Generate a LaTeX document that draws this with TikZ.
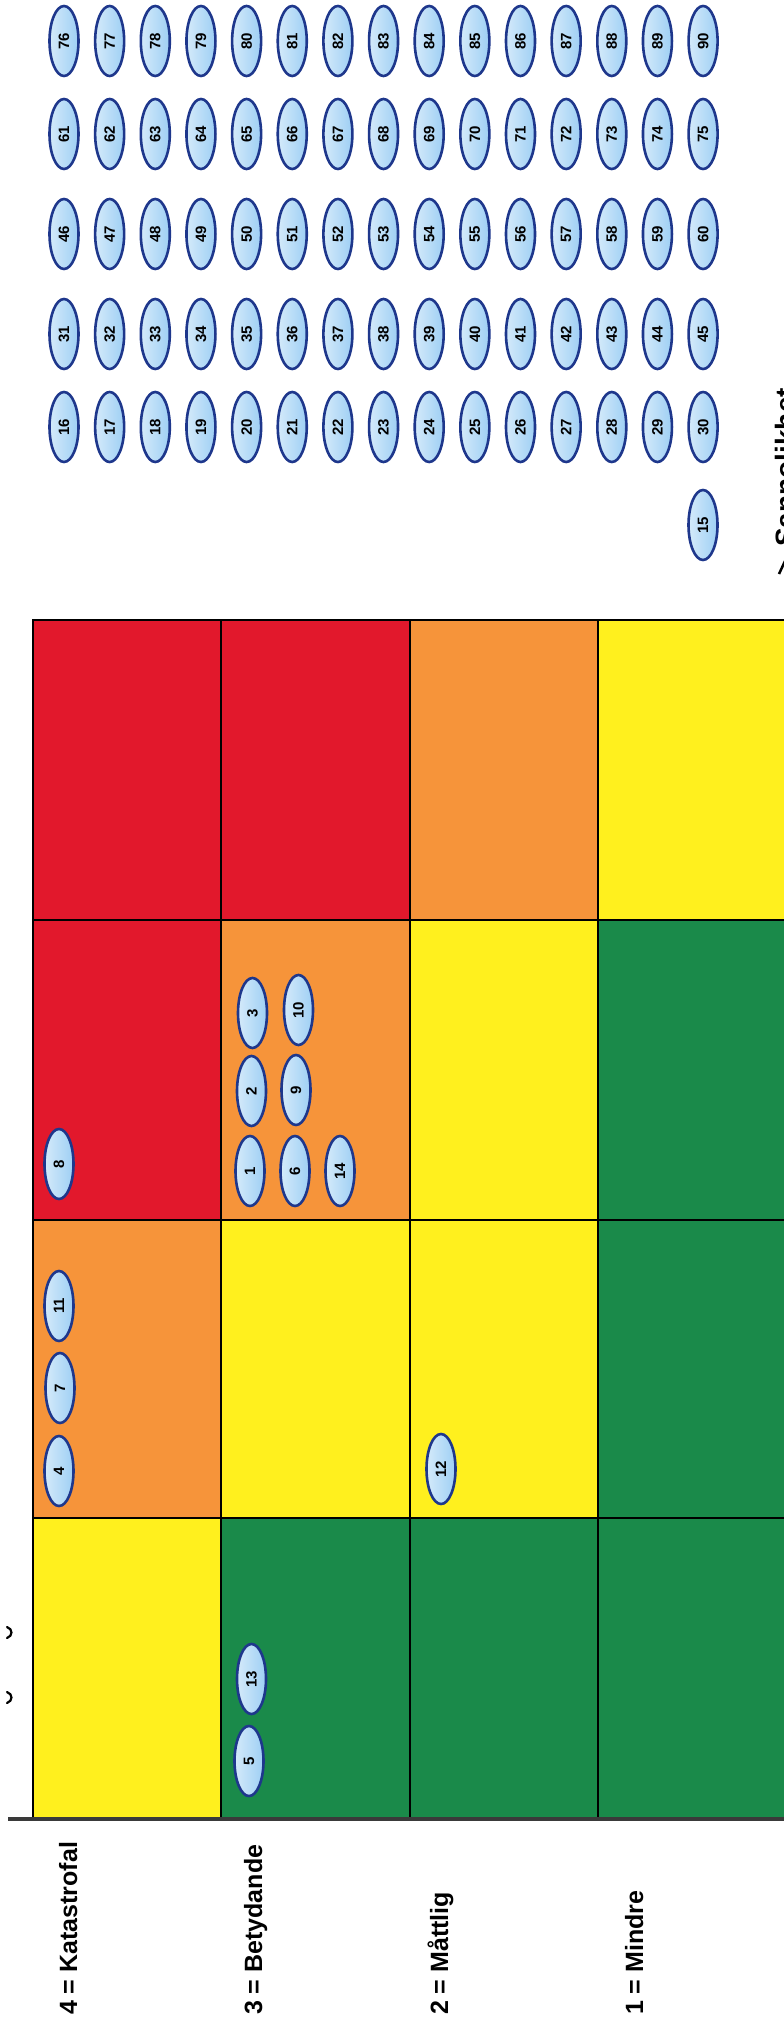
\documentclass[tikz,border=0pt]{standalone}
\usepackage{fontspec}
\setmainfont{Liberation Sans}
\usetikzlibrary{shapes.geometric}
\definecolor{rRed}{HTML}{E2182C}
\definecolor{rOrange}{HTML}{F6943A}
\definecolor{rYellow}{HTML}{FFF01E}
\definecolor{rGreen}{HTML}{1A8A4A}
\definecolor{ovalBorder}{HTML}{1E378C}
\definecolor{ovalLight}{HTML}{D4EAFA}
\definecolor{ovalDark}{HTML}{9ECFF4}
\definecolor{axisGray}{HTML}{3A3A3A}
\begin{document}
\begin{tikzpicture}[x=1pt,y=-1pt,
  cell/.style={draw=black,line width=1.3pt},
  risk/.style={ellipse, draw=ovalBorder, line width=2.6pt,
    left color=ovalLight, right color=ovalDark,
    minimum width=70pt, minimum height=29pt, inner sep=0pt, rotate=90,
    font=\bfseries\fontsize{15}{15}\selectfont},
  axlabel/.style={anchor=base west, rotate=90, inner sep=0pt,
    font=\bfseries\fontsize{25}{30}\selectfont}]
\useasboundingbox (0,0) rectangle (784,2031);
\clip (0,0) rectangle (784,2031);
\fill[white] (0,0) rectangle (784,2031);

% risk matrix cells
\foreach \xa/\xb/\ya/\yb/\c in {
  33/221/620/920/rRed, 221/410/620/920/rRed, 410/598/620/920/rOrange, 598/790/620/920/rYellow,
  33/221/920/1220/rRed, 221/410/920/1220/rOrange, 410/598/920/1220/rYellow, 598/790/920/1220/rGreen,
  33/221/1220/1518/rOrange, 221/410/1220/1518/rYellow, 410/598/1220/1518/rYellow, 598/790/1220/1518/rGreen,
  33/221/1518/1818/rYellow, 221/410/1518/1818/rGreen, 410/598/1518/1818/rGreen, 598/790/1518/1818/rGreen}
  \filldraw[cell, fill=\c] (\xa,\ya) rectangle (\xb,\yb);

% axis line
\draw[line width=4pt, axisGray] (8,1819) -- (790,1819);

% small marks at the left edge
\draw[line width=2.2pt, line cap=round] (7,1627) .. controls (13,1629) and (13,1636) .. (7,1638);
\draw[line width=2.2pt, line cap=round] (7,1692) .. controls (13,1694) and (13,1701) .. (7,1703);

% consequence labels
\node[axlabel] (k4) at (77,2015) {4 = Katastrofal};
\node[axlabel] (k3) at (262,2015) {3 = Betydande};
\node[axlabel] (k2) at (448,2015) {2 = Måttlig};
\node[axlabel] (k1) at (643,2015) {1 = Mindre};

% probability label (cut off at the right edge, as in the reference)
\node[anchor=base west, rotate=90, inner sep=0pt, font=\bfseries\fontsize{28}{30}\selectfont] (sann) at (795,547) {Sannolikhet};
\draw[line width=2.5pt] (779,574) -- (785,561);

% risks placed in the matrix
\node[risk] (r8) at (59,1164) {8};
\node[risk] (r3) at (252.5,1013) {3};
\node[risk] (r10) at (298.5,1010) {10};
\node[risk] (r2) at (251.5,1091) {2};
\node[risk] (r9) at (296,1090) {9};
\node[risk] (r1) at (250,1171) {1};
\node[risk] (r6) at (295,1171) {6};
\node[risk] (r14) at (340,1171) {14};
\node[risk] (r11) at (59,1306) {11};
\node[risk] (r7) at (60,1388) {7};
\node[risk] (r4) at (59,1471) {4};
\node[risk] (r12) at (441,1469) {12};
\node[risk] (r13) at (251.5,1679) {13};
\node[risk] (r5) at (249,1761) {5};

% bank of unplaced risks
\foreach \i in {0,...,14} {
  \pgfmathsetmacro{\xx}{64+45.65*\i}
  \pgfmathtruncatemacro{\na}{76+\i}
  \pgfmathtruncatemacro{\nb}{61+\i}
  \pgfmathtruncatemacro{\nc}{46+\i}
  \pgfmathtruncatemacro{\nd}{31+\i}
  \pgfmathtruncatemacro{\ne}{16+\i}
  \node[risk] (e\na) at (\xx,41) {\na};
  \node[risk] (e\nb) at (\xx,134) {\nb};
  \node[risk] (e\nc) at (\xx,234) {\nc};
  \node[risk] (e\nd) at (\xx,334) {\nd};
  \node[risk] (e\ne) at (\xx,427) {\ne};
}
\node[risk] (e15) at (703,525) {15};
\end{tikzpicture}
\end{document}
